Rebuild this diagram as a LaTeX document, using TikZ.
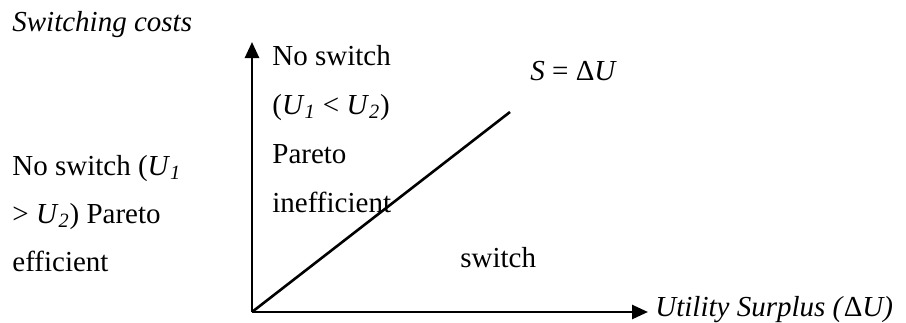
\documentclass[tikz,border=0pt]{standalone}
\usepackage{fontspec}
\setmainfont{Liberation Serif}
\usetikzlibrary{arrows.meta}
\newcommand{\Usub}[1]{\textit{U}\textsubscript{\textit{#1}}}
\tikzset{
  lbl/.style={anchor=base west,inner sep=0pt,font=\fontsize{14.5}{17}\selectfont},
  axis/.style={line width=1.3pt,-{Triangle[length=8pt,width=7pt]}}
}
\begin{document}
\begin{tikzpicture}[x=0.5pt,y=-0.5pt]
  \useasboundingbox (0,0) rectangle (906,322);

  % Axes
  \coordinate (O) at (252,312);
  \coordinate (ytop) at (252,42);
  \coordinate (xend) at (648,312);
  \draw[axis] (O) -- (ytop);
  \draw[axis] (O) -- (xend);

  % The line S = dU
  \coordinate (send) at (510,112);
  \draw[line width=1.3pt] (O) -- (send);

  % Axis labels
  \node[lbl] (ylab) at (12,31) {\textit{Switching costs}};
  \node[lbl] (xlab) at (655,316) {\textit{Utility Surplus (}Δ\textit{U)}};
  \node[lbl] (slab) at (530,80) {\textit{S} = Δ\textit{U}};

  % Region labels
  \node[lbl] (up1) at (272,65) {No switch};
  \node[lbl] (up2) at (272,114) {(\Usub{1} < \Usub{2})};
  \node[lbl] (up3) at (272,163) {Pareto};
  \node[lbl] (up4) at (272,212) {inefficient};

  \node[lbl] (left1) at (12,175) {No switch (\Usub{1}};
  \node[lbl] (left2) at (12,223) {> \Usub{2}) Pareto};
  \node[lbl] (left3) at (12,271) {efficient};

  \node[lbl] (sw) at (460,267) {switch};
\end{tikzpicture}
\end{document}
